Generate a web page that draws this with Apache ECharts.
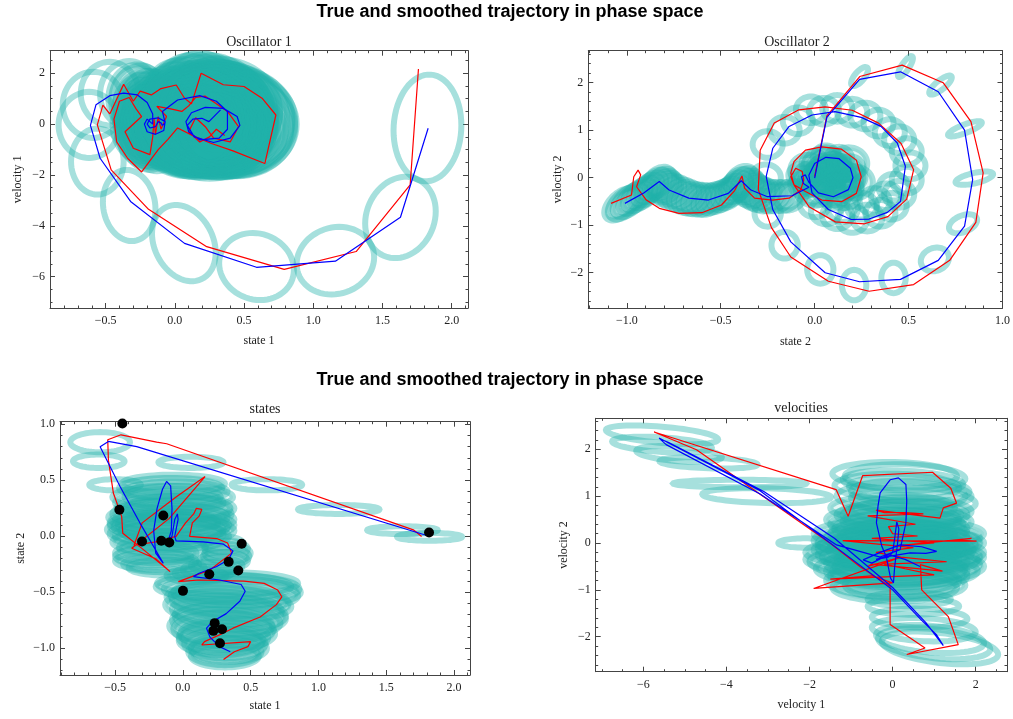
<!DOCTYPE html>
<html><head><meta charset="utf-8">
<script src="https://cdn.jsdelivr.net/npm/echarts@6/dist/echarts.min.js"></script>
<style>html,body{margin:0;padding:0;background:#fff}#c{width:1013px;height:719px}</style>
</head><body><div id="c"></div>
<script>
// ---------------- DATA ----------------
// Plot 1: Oscillator 1 (state 1 vs velocity 1)
const true1 = [[1.76,2.17],[1.70,-2.39],[1.31,-5.01],[0.79,-5.71],[0.23,-4.82],[-0.19,-3.35],[-0.46,-1.80],[-0.56,-0.03],[-0.52,0.75],[-0.47,0.40],[-0.37,1.57],[-0.30,0.90],[-0.25,1.30],[-0.17,1.15],[-0.10,1.40],[0.01,1.54],[0.07,1.02],[0.12,0.80],[0.19,2.00],[0.35,1.55],[0.50,1.48],[0.63,1.02],[0.73,0.36],[0.65,-1.55],[0.42,-1.05],[0.26,-0.75],[0.13,-0.45],[0.02,-0.15],[-0.05,-0.60],[-0.12,-1.00],[-0.24,-1.88],[-0.34,-1.35],[-0.42,-0.70],[-0.44,0.20],[-0.40,0.90],[-0.33,1.05],[-0.28,0.60],[-0.24,0.30],[-0.36,-0.30],[-0.30,-0.95],[-0.18,-1.20],[-0.16,-0.50],[-0.15,0.20],[-0.14,-0.40],[-0.12,0.30],[-0.10,-0.20],[-0.06,0.30],[-0.13,0.70],[-0.03,0.60],[0.05,0.50],[0.10,0.72],[0.15,1.05],[0.22,1.10],[0.30,0.80],[0.38,0.50],[0.46,-0.10],[0.40,-0.70],[0.28,-0.55],[0.22,-0.10],[0.15,0.25],[0.10,-0.30],[0.18,-0.70],[0.25,-0.50],[0.30,-0.20],[0.36,-0.45]];
const smooth1 = [[1.83,-0.16],[1.63,-3.66],[1.16,-5.39],[0.59,-5.63],[0.07,-4.69],[-0.32,-3.04],[-0.54,-1.34],[-0.61,-0.05],[-0.57,0.76],[-0.47,1.12],[-0.37,1.22],[-0.27,1.15],[-0.20,0.85],[-0.16,0.40],[-0.16,0.00],[-0.20,0.20],[-0.22,0.00],[-0.20,-0.30],[-0.14,-0.40],[-0.08,-0.25],[-0.07,0.10],[-0.12,0.25],[-0.18,0.20],[-0.20,0.00],[-0.18,-0.15],[-0.14,-0.10],[-0.12,0.10],[-0.10,0.05],[-0.09,-0.05],[-0.07,0.05],[-0.09,0.50],[0.02,0.95],[0.18,1.12],[0.30,0.90],[0.38,0.50],[0.38,-0.20],[0.32,-0.55],[0.18,-0.62],[0.10,-0.30],[0.08,0.10],[0.12,0.45],[0.22,0.66],[0.35,0.62],[0.45,0.30],[0.47,-0.05],[0.40,-0.55],[0.28,-0.72],[0.14,-0.50],[0.09,-0.05],[0.13,0.20],[0.195,0.23],[0.246,0.10],[0.33,0.56]];
// covariance ellipses: [centre x, centre y, sd x, sd y, correlation]
const ell1Sparse = [[1.825,-0.15,0.245,2.1,0.05],[1.63,-3.67,0.255,1.6,0.15],[1.16,-5.37,0.28,1.33,0.1],[0.59,-5.6,0.27,1.32,-0.1],[0.065,-4.68,0.23,1.5,-0.25],[-0.33,-3.2,0.19,1.4,-0.1],[-0.56,-1.47,0.19,1.3,0],[-0.62,-0.03,0.22,1.3,0],[-0.59,0.76,0.22,1.3,0],[-0.47,1.2,0.21,1.25,0],[-0.33,1.18,0.21,1.3,0]];
const ell1Dense = [[-0.27,1.0,0.21,1.35,0],[-0.22,0.7,0.21,1.4,0],[-0.19,0.4,0.21,1.45,0],[-0.2,0.1,0.21,1.5,0],[-0.21,-0.15,0.21,1.5,0],[-0.18,-0.3,0.21,1.5,0],[-0.13,-0.35,0.22,1.5,0],[-0.09,-0.2,0.22,1.5,0],[-0.08,0.1,0.22,1.55,0],[-0.12,0.2,0.22,1.55,0],[-0.16,0.05,0.22,1.55,0],[-0.1,0.0,0.22,1.6,0],[-0.07,0.3,0.23,1.6,0],[-0.05,0.6,0.24,1.6,0],[0.02,0.9,0.25,1.6,0],[0.1,1.05,0.26,1.65,0],[0.18,1.1,0.28,1.7,0],[0.27,0.95,0.3,1.75,0],[0.35,0.6,0.33,1.8,0],[0.38,0.2,0.35,1.85,0],[0.36,-0.2,0.36,1.8,0],[0.3,-0.45,0.37,1.65,0],[0.18,-0.5,0.37,1.6,0],[0.1,-0.3,0.38,1.75,0],[0.08,0.05,0.38,2.0,0],[0.12,0.3,0.39,2.0,0],[0.2,0.45,0.4,2.0,0],[0.3,0.45,0.4,2.0,0],[0.4,0.3,0.41,2.0,0],[0.45,0.1,0.42,2.0,0],[0.45,-0.1,0.42,1.95,0],[0.38,-0.3,0.42,1.75,0],[0.28,-0.35,0.42,1.7,0],[0.18,-0.25,0.42,1.75,0],[0.14,0.0,0.42,2.0,0],[0.17,0.2,0.42,2.05,0],[0.22,0.25,0.43,2.1,0],[0.27,0.2,0.43,2.1,0],[0.3,0.35,0.43,2.1,0],
[-0.25,0.9,0.21,1.4,0],[-0.23,0.5,0.21,1.45,0],[-0.22,0.25,0.21,1.5,0],[-0.19,-0.05,0.21,1.5,0],[-0.17,-0.2,0.21,1.5,0],[-0.15,0.15,0.22,1.5,0],[-0.13,0.3,0.22,1.55,0],[-0.11,-0.1,0.22,1.55,0],[-0.06,-0.05,0.22,1.55,0],[-0.04,0.2,0.23,1.55,0],[-0.02,0.45,0.23,1.6,0],[0.0,0.75,0.24,1.6,0],[0.05,0.95,0.25,1.6,0],[-0.14,0.55,0.22,1.5,0],[-0.24,0.0,0.21,1.45,0],[-0.18,0.7,0.21,1.4,0],
[0.14,1.1,0.27,1.65,0],[0.22,1.05,0.29,1.7,0],[0.31,0.8,0.32,1.8,0],[0.37,0.4,0.34,1.85,0],[0.38,0.0,0.35,1.85,0],[0.34,-0.35,0.36,1.75,0],[0.25,-0.5,0.37,1.65,0],[0.14,-0.42,0.37,1.65,0],[0.09,-0.15,0.38,1.85,0],[0.1,0.2,0.38,2.0,0],[0.15,0.4,0.39,2.0,0],[0.25,0.5,0.4,2.0,0],[0.35,0.4,0.41,2.0,0],[0.43,0.2,0.42,2.0,0],[0.46,0.0,0.42,2.0,0],[0.42,-0.2,0.42,1.85,0],[0.33,-0.33,0.42,1.75,0],[0.23,-0.32,0.42,1.72,0],[0.15,-0.12,0.42,1.85,0],[0.15,0.1,0.42,2.0,0],[0.2,0.22,0.42,2.05,0],[0.25,0.15,0.43,2.1,0],[0.29,0.25,0.43,2.1,0],[0.33,0.5,0.43,2.05,0]];

// Plot 2: Oscillator 2 (state 2 vs velocity 2)
const true2 = [[0.00,0.03],[0.065,1.30],[0.24,2.13],[0.466,2.37],[0.684,2.00],[0.832,1.18],[0.897,0.10],[0.858,-0.94],[0.719,-1.74],[0.527,-2.25],[0.29,-2.39],[0.073,-2.18],[-0.127,-1.67],[-0.23,-1.05],[-0.30,-0.25],[-0.29,0.58],[-0.215,1.15],[-0.084,1.43],[0.056,1.49],[0.20,1.42],[0.34,1.15],[0.46,0.72],[0.527,0.17],[0.49,-0.45],[0.39,-0.82],[0.265,-0.97],[0.11,-0.93],[-0.03,-0.61],[-0.11,-0.15],[-0.127,0.10],[-0.11,0.34],[-0.049,0.58],[0.038,0.65],[0.143,0.60],[0.222,0.37],[0.248,0.02],[0.222,-0.33],[0.143,-0.505],[0.038,-0.47],[-0.049,-0.29],[-0.11,-0.15],[-0.127,0.02],[-0.101,0.20],[-0.066,0.13],[-0.058,-0.05],[-0.075,-0.26],[-0.136,-0.43],[-0.224,-0.47],[-0.32,-0.43],[-0.373,-0.22],[-0.387,0.036],[-0.394,0.036],[-0.426,-0.27],[-0.496,-0.575],[-0.60,-0.737],[-0.722,-0.75],[-0.827,-0.645],[-0.896,-0.47],[-0.948,-0.19],[-0.926,0.06],[-0.94,0.16],[-0.963,0.02],[-0.975,-0.364],[-1.084,-0.54]];
const smooth2 = [[0.0,-0.01],[0.065,1.27],[0.239,2.07],[0.457,2.23],[0.658,1.81],[0.798,1.0],[0.841,-0.04],[0.798,-1.02],[0.658,-1.74],[0.457,-2.14],[0.239,-2.19],[0.056,-2.0],[-0.127,-1.35],[-0.223,-0.67],[-0.258,0.03],[-0.223,0.62],[-0.136,1.08],[-0.014,1.32],[0.108,1.39],[0.248,1.27],[0.353,1.08],[0.44,0.73],[0.483,0.24],[0.457,-0.5],[0.387,-0.73],[0.29,-0.87],[0.195,-0.88],[0.073,-0.67],[-0.014,-0.32],[-0.031,0.05],[0.0,0.3],[0.06,0.43],[0.13,0.4],[0.19,0.2],[0.204,0.0],[0.18,-0.25],[0.1,-0.4],[0.02,-0.32],[-0.03,-0.1],[-0.05,0.06],[-0.07,0.02],[-0.06,-0.12],[-0.03,-0.2],[-0.06,-0.26],[-0.12,-0.38],[-0.251,-0.4],[-0.339,-0.26],[-0.391,-0.063],[-0.46,-0.33],[-0.565,-0.47],[-0.67,-0.43],[-0.775,-0.26],[-0.827,-0.08],[-0.91,-0.32],[-1.01,-0.54]];
const ell2Sparse = [[0.239,2.13,0.045,0.2,0.7],[0.483,2.34,0.04,0.22,0.8],[0.67,1.95,0.06,0.2,0.8],[0.80,1.03,0.09,0.16,0.8],[0.85,-0.01,0.1,0.14,0.6],[0.79,-0.97,0.075,0.2,0.4],[0.64,-1.72,0.075,0.25,0.15],[0.42,-2.11,0.065,0.32,0],[0.21,-2.26,0.065,0.32,0],[0.03,-1.93,0.07,0.3,0],[-0.16,-1.42,0.07,0.28,0],[-0.25,-0.75,0.07,0.28,0],
[-0.26,0.0,0.08,0.28,0],[-0.25,0.7,0.08,0.28,0],[-0.16,1.0,0.08,0.28,0],[-0.09,1.2,0.08,0.28,0],[-0.02,1.43,0.08,0.28,0],[0.05,1.4,0.08,0.28,0],[0.12,1.46,0.08,0.28,0],[0.2,1.38,0.08,0.28,0],[0.27,1.3,0.08,0.28,0],[0.34,1.15,0.08,0.28,0],[0.4,0.95,0.08,0.28,0],[0.45,0.8,0.08,0.28,0],[0.49,0.55,0.08,0.28,0],[0.51,0.25,0.08,0.28,0],[0.49,-0.05,0.08,0.28,0],[0.45,-0.35,0.08,0.28,0],[0.41,-0.6,0.08,0.28,0],[0.35,-0.75,0.08,0.28,0],[0.28,-0.85,0.08,0.28,0],[0.2,-0.88,0.08,0.28,0],[0.12,-0.8,0.08,0.28,0],[0.06,-0.7,0.08,0.28,0],[0.0,-0.55,0.08,0.28,0],
[0.25,-0.6,0.08,0.28,0],[0.32,-0.5,0.08,0.28,0],[0.38,-0.4,0.08,0.28,0],[0.15,-0.65,0.08,0.28,0],[0.42,-0.2,0.08,0.28,0]];
const ell2Dense = [[-0.03,0.05,0.07,0.25,0],[0.0,0.3,0.07,0.25,0],[0.06,0.43,0.07,0.25,0],[0.13,0.4,0.07,0.25,0],[0.19,0.2,0.07,0.25,0],[0.2,0.0,0.07,0.25,0],[0.18,-0.25,0.07,0.25,0],[0.1,-0.4,0.07,0.25,0],[0.02,-0.32,0.07,0.25,0],[0.04,0.1,0.07,0.25,0],[0.09,0.0,0.07,0.25,0],[0.12,0.15,0.07,0.25,0],[0.08,-0.15,0.07,0.25,0],[0.14,-0.1,0.07,0.25,0],[0.05,0.2,0.07,0.25,0],[0.1,0.25,0.07,0.25,0],[0.16,0.05,0.07,0.25,0],[0.03,-0.1,0.07,0.25,0],[-0.05,-0.05,0.07,0.25,0],[-0.07,0.05,0.07,0.25,0],[-0.06,-0.15,0.07,0.25,0],
[0.09,0.02,0.12,0.4,0],[0.07,0.1,0.12,0.4,0.2],[0.11,-0.05,0.12,0.4,-0.2],[0.05,0.05,0.12,0.4,0.4],[0.13,0.0,0.12,0.4,-0.4],[0.08,0.2,0.11,0.38,0],[0.1,-0.2,0.11,0.38,0],[0.02,0.0,0.1,0.36,0.3],[0.16,0.1,0.1,0.36,-0.3],[0.04,0.3,0.1,0.34,0.2],[0.14,-0.3,0.1,0.34,-0.2],[0.18,0.3,0.1,0.34,0],[0.0,-0.25,0.1,0.34,0],[0.22,-0.1,0.09,0.33,0],[-0.04,0.15,0.09,0.33,0],
[-0.12,-0.38,0.08,0.31,0.3],[-0.19,-0.4,0.08,0.31,0.3],[-0.251,-0.4,0.08,0.31,0.3],[-0.3,-0.34,0.08,0.31,0.3],[-0.339,-0.26,0.08,0.31,0.3],[-0.36,-0.16,0.08,0.31,0.3],[-0.391,-0.063,0.08,0.31,0.3],[-0.42,-0.2,0.08,0.31,0.3],[-0.46,-0.33,0.08,0.31,0.3],[-0.51,-0.41,0.08,0.31,0.3],[-0.565,-0.47,0.08,0.31,0.3],[-0.62,-0.46,0.08,0.31,0.3],[-0.67,-0.43,0.08,0.31,0.3],[-0.72,-0.35,0.08,0.31,0.3],[-0.775,-0.26,0.08,0.31,0.3],[-0.8,-0.17,0.08,0.31,0.3],[-0.827,-0.08,0.08,0.31,0.3],[-0.87,-0.2,0.08,0.31,0.4],[-0.91,-0.32,0.08,0.32,0.4],[-0.96,-0.43,0.085,0.33,0.5],[-1.01,-0.54,0.09,0.34,0.5],
[-0.15,-0.39,0.08,0.31,0.3],[-0.22,-0.4,0.08,0.31,0.3],[-0.28,-0.37,0.08,0.31,0.3],[-0.32,-0.3,0.08,0.31,0.3],[-0.35,-0.21,0.08,0.31,0.3],[-0.375,-0.11,0.08,0.31,0.3],[-0.405,-0.13,0.08,0.31,0.3],[-0.44,-0.27,0.08,0.31,0.3],[-0.485,-0.37,0.08,0.31,0.3],[-0.54,-0.44,0.08,0.31,0.3],[-0.59,-0.47,0.08,0.31,0.3],[-0.645,-0.45,0.08,0.31,0.3],[-0.695,-0.39,0.08,0.31,0.3],[-0.75,-0.3,0.08,0.31,0.3],[-0.79,-0.21,0.08,0.31,0.3],[-0.815,-0.12,0.08,0.31,0.3],[-0.85,-0.14,0.08,0.31,0.4],[-0.89,-0.26,0.08,0.32,0.4],[-0.935,-0.37,0.085,0.33,0.45],[-0.985,-0.49,0.09,0.34,0.5],[-1.03,-0.56,0.09,0.34,0.5]];

// Plot 3: states (state 1 vs state 2)
const true3 = [[1.761,-0.002],[1.70,0.058],[-0.119,0.826],[-0.193,0.84],[-0.456,0.906],[-0.554,0.862],[-0.549,0.68],[-0.512,0.384],[-0.451,0.176],[-0.443,0.027],[-0.30,-0.11],[-0.094,-0.315],[-0.2,-0.2],[-0.377,-0.107],[-0.1,0.16],[0.164,0.533],[-0.05,0.35],[-0.3,0.12],[-0.36,-0.08],[-0.2,-0.05],[-0.05,0.0],[0.02,0.12],[0.08,0.2],[0.1,0.25],[0.14,0.24],[0.12,0.18],[0.07,0.12],[0.05,0.0],[0.25,-0.02],[0.33,-0.06],[0.36,-0.15],[0.2,-0.3],[-0.033,-0.405],[0.12,-0.39],[0.45,-0.40],[0.6,-0.42],[0.7,-0.48],[0.73,-0.54],[0.69,-0.61],[0.57,-0.72],[0.37,-0.82],[0.27,-0.88],[0.16,-0.94],[0.14,-0.97],[0.5,-0.94],[0.48,-0.985],[0.38,-1.03],[0.3,-1.1]];
const smooth3 = [[1.80,0.007],[-0.34,0.80],[-0.549,0.847],[-0.61,0.80],[-0.463,0.445],[-0.316,0.118],[-0.144,-0.241],[-0.2,-0.15],[-0.215,0.05],[-0.19,0.25],[-0.15,0.42],[-0.12,0.49],[-0.09,0.45],[-0.08,0.25],[-0.085,0.05],[-0.11,-0.05],[-0.08,0.0],[-0.06,0.15],[-0.04,0.2],[-0.035,0.15],[-0.06,0.0],[-0.05,-0.04],[0.15,-0.05],[0.3,-0.07],[0.37,-0.13],[0.336,-0.21],[0.25,-0.27],[0.12,-0.33],[0.078,-0.36],[0.27,-0.39],[0.43,-0.43],[0.46,-0.49],[0.42,-0.58],[0.32,-0.69],[0.22,-0.76],[0.175,-0.82],[0.2,-0.9],[0.27,-0.985],[0.35,-1.03]];
const obs3 = [[-0.446,1.007],[-0.468,0.237],[-0.144,0.186],[-0.301,-0.046],[-0.159,-0.040],[-0.10,-0.055],[0.434,-0.067],[0.338,-0.228],[0.409,-0.305],[0.195,-0.338],[0.001,-0.487],[0.235,-0.775],[0.225,-0.844],[0.289,-0.829],[0.274,-0.954],[1.816,0.034]];
const ell3Sparse = [[-0.61,0.84,0.22,0.09,0],[-0.62,0.67,0.19,0.06,0],[-0.5,0.46,0.19,0.05,0],[0.06,0.66,0.24,0.05,0],[0.62,0.46,0.26,0.05,0],[1.15,0.24,0.3,0.04,0],[1.62,0.055,0.26,0.035,0],[1.82,-0.005,0.24,0.035,0]];
const ell3Dense = [[-0.07,0.47,0.38,0.08,0],[-0.05,0.4,0.38,0.09,0],[-0.1,0.3,0.4,0.1,0],[-0.08,0.2,0.44,0.12,0],[-0.1,0.1,0.44,0.12,0],[-0.12,0.02,0.42,0.12,0],[-0.06,0.15,0.44,0.12,0],[-0.04,0.05,0.42,0.12,0],[-0.18,-0.05,0.34,0.1,0],[-0.2,-0.15,0.3,0.09,0],[-0.2,-0.22,0.3,0.08,0],[-0.12,-0.28,0.28,0.07,0],[-0.02,0.25,0.4,0.11,0],[-0.14,0.12,0.4,0.11,0],
[-0.09,0.43,0.38,0.09,0],[-0.12,0.35,0.4,0.1,0],[-0.07,0.25,0.42,0.11,0],[-0.11,0.17,0.44,0.12,0],[-0.13,0.06,0.43,0.12,0],[-0.05,0.1,0.43,0.12,0],[-0.08,0.0,0.42,0.12,0],[-0.15,-0.1,0.32,0.1,0],[-0.22,-0.18,0.28,0.08,0],[-0.16,-0.25,0.28,0.07,0],[-0.03,0.35,0.4,0.1,0],[-0.09,0.08,0.42,0.12,0],
[0.3,-0.07,0.15,0.07,0],[0.33,-0.15,0.17,0.08,0],[0.3,-0.22,0.18,0.08,0],[0.2,-0.3,0.2,0.07,0],[0.1,-0.35,0.22,0.06,0],[0.32,-0.11,0.16,0.07,0],[0.32,-0.18,0.17,0.08,0],[0.25,-0.26,0.19,0.07,0],[0.15,-0.33,0.21,0.06,0],
[0.33,-0.42,0.52,0.1,0],[0.36,-0.47,0.5,0.12,0],[0.38,-0.53,0.47,0.13,0],[0.36,-0.6,0.44,0.14,-0.2],[0.34,-0.68,0.42,0.15,-0.2],[0.32,-0.76,0.4,0.15,-0.1],[0.3,-0.83,0.37,0.15,0],[0.3,-0.9,0.33,0.14,0],[0.31,-0.96,0.3,0.13,0],[0.31,-1.03,0.27,0.12,0],[0.31,-1.07,0.25,0.1,0],
[0.3,-0.45,0.5,0.11,0],[0.4,-0.5,0.47,0.12,0],[0.33,-0.57,0.45,0.14,-0.2],[0.3,-0.64,0.43,0.15,-0.2],[0.35,-0.72,0.41,0.15,-0.1],[0.28,-0.8,0.38,0.15,0],[0.33,-0.87,0.35,0.14,0],[0.28,-0.93,0.31,0.13,0],[0.34,-1.0,0.28,0.12,0]];

// Plot 4: velocities (velocity 1 vs velocity 2)
const true4 = [[-5.74,2.37],[-4.72,1.99],[-1.51,0.0],[-0.79,-0.5],[-0.06,-0.93],[-0.06,-1.74],[0.78,-2.24],[0.34,-2.38],[1.58,-2.17],[1.34,-1.57],[0.70,-1.0],[0.67,-0.46],[1.2,-0.6],[-0.5,-0.45],[-0.6,-0.5],[0.2,-0.3],[-1.9,-0.97],[0.0,-0.85],[-0.5,-0.7],[-1.5,-0.77],[1.0,-0.68],[0.3,-0.55],[-0.2,-0.45],[1.3,-0.4],[0.2,-0.3],[-0.4,-0.2],[0.5,-0.1],[-1.2,0.05],[2.02,0.04],[1.5,0.06],[1.9,0.1],[0.2,-0.05],[1.0,0.0],[-0.5,0.1],[0.6,0.15],[0.0,0.2],[-0.1,0.35],[0.55,0.4],[-0.6,0.58],[0.74,0.62],[0.3,0.65],[-0.2,0.65],[-0.4,0.7],[1.14,0.53],[1.22,0.75],[1.54,0.85],[1.40,1.17],[0.96,1.51],[-0.72,1.44],[-1.07,0.57],[-1.36,1.14],[-5.74,2.37]];
const smooth4 = [[0.66,-0.5],[0.3,-0.35],[-0.1,-0.25],[-0.5,-0.43],[-0.71,-0.36],[-0.3,-0.2],[0.18,-0.04],[0.7,-0.08],[1.06,-0.18],[0.8,-0.22],[0.42,-0.21],[-0.2,-0.3],[-0.4,-0.35],[-0.1,-0.3],[0.0,-0.2],[0.05,0.1],[0.1,0.45],[0.15,0.3],[0.12,0.0],[0.05,-0.5],[0.02,-0.85],[-0.05,-0.75],[-0.15,-0.3],[-0.26,-0.07],[-0.39,0.43],[-0.35,0.8],[-0.3,1.07],[-0.06,1.35],[0.14,1.39],[0.32,1.25],[0.34,0.9],[0.32,0.43],[0.18,-0.14],[0.0,-0.2],[-0.3,-0.3],[-1.35,-0.04],[-3.2,1.05],[-5.45,2.1],[-5.62,2.24],[-3.2,1.12],[-1.2,-0.2],[0.0,-1.0],[0.7,-1.65],[1.05,-1.95],[1.22,-2.19],[1.1,-2.05],[0.8,-1.7],[0.0,-0.95],[-1.4,0.1],[-3.1,1.1],[-5.4,2.15],[-5.6,2.22]];
const ell4Sparse = [[-5.55,2.31,1.35,0.2,-0.5],[-5.55,2.1,1.2,0.17,-0.4],[-5.14,1.9,1.03,0.17,-0.4],[-4.43,1.71,1.18,0.12,-0.3],[-3.68,1.27,1.6,0.08,0],[-3.03,1.01,1.55,0.16,-0.2],[-2.1,0.0,0.65,0.1,0],
[0.05,1.45,1.5,0.28,-0.1],[0.25,1.3,1.45,0.25,-0.2],[0.4,1.15,1.45,0.27,-0.2],[0.2,1.0,1.55,0.3,0],[0.5,0.9,1.5,0.3,-0.2],[0.3,1.4,1.45,0.28,-0.1],[0.1,1.2,1.5,0.28,-0.1],[0.45,1.05,1.45,0.28,-0.2],
[0.5,-1.35,1.1,0.18,0],[0.75,-1.85,1.25,0.25,-0.2],[0.9,-2.05,1.3,0.3,-0.3],[1.14,-2.24,1.4,0.35,-0.4],[0.4,-1.2,1.0,0.15,0],[0.65,-1.6,1.15,0.2,-0.1],[1.0,-2.15,1.35,0.33,-0.35]];
const ell4Dense = [[0.2,0.3,1.6,0.35,0],[0.1,0.1,1.7,0.35,0],[0.0,-0.1,1.8,0.35,0],[0.2,-0.3,1.9,0.35,0],[-0.1,-0.4,1.9,0.35,0],[0.3,0.0,1.8,0.35,0],[0.1,-0.6,1.7,0.35,0],[0.0,-0.8,1.6,0.35,0],[0.4,-0.5,1.8,0.35,0],[0.5,0.2,1.7,0.3,0],[-0.2,0.2,1.7,0.3,0],[0.0,0.5,1.6,0.3,0],[0.3,0.6,1.5,0.3,0],[-0.3,-0.2,1.8,0.3,0],[0.6,-0.2,1.6,0.3,0],[0.2,-0.15,1.75,0.33,0],[-0.05,0.0,1.75,0.3,0],[0.35,-0.35,1.7,0.33,0],
[0.15,0.2,1.65,0.33,0],[0.25,-0.05,1.75,0.33,0],[0.05,-0.25,1.85,0.35,0],[-0.05,-0.55,1.8,0.35,0],[0.25,-0.45,1.85,0.35,0],[0.15,-0.7,1.65,0.35,0],[0.4,0.1,1.7,0.32,0],[-0.15,0.05,1.75,0.32,0],[0.45,-0.3,1.75,0.33,0],[0.1,0.4,1.6,0.3,0],[0.35,0.45,1.55,0.3,0],[-0.25,-0.35,1.85,0.32,0],[0.55,0.0,1.65,0.3,0],[0.3,-0.6,1.75,0.33,0],[-0.1,-0.15,1.8,0.33,0],[0.05,-0.95,1.5,0.3,0],[0.3,-0.9,1.45,0.3,0],[0.15,0.6,1.5,0.28,0],[0.45,0.7,1.45,0.28,-0.1],[0.0,0.75,1.5,0.28,0]];

// Tick values and labels
const ticks1x = [-0.5,0,0.5,1,1.5,2],   labels1x = ['\u22120.5','0.0','0.5','1.0','1.5','2.0'];
const ticks1y = [-6,-4,-2,0,2],         labels1y = ['\u22126','\u22124','\u22122','0','2'];
const ticks2x = [-1,-0.5,0,0.5,1],      labels2x = ['\u22121.0','\u22120.5','0.0','0.5','1.0'];
const ticks2y = [-2,-1,0,1,2],          labels2y = ['\u22122','\u22121','0','1','2'];
const ticks3x = [-0.5,0,0.5,1,1.5,2],   labels3x = ['\u22120.5','0.0','0.5','1.0','1.5','2.0'];
const ticks3y = [-1,-0.5,0,0.5,1],      labels3y = ['\u22121.0','\u22120.5','0.0','0.5','1.0'];
const ticks4x = [-6,-4,-2,0,2],         labels4x = ['\u22126','\u22124','\u22122','0','2'];
const ticks4y = [-2,-1,0,1,2],          labels4y = ['\u22122','\u22121','0','1','2'];

// ---------------- CHART ----------------
const SERIF = "'Liberation Serif','Times New Roman',serif";
const SANS = "'Liberation Sans',Arial,sans-serif";
const FRAME = '#444';
const TEAL = 'rgba(32,178,170,0.4)';
const TEAL_FILL = 'rgba(32,178,170,0.13)';

function stepValues(min, max, step) {
  const out = [];
  const start = Math.ceil(min / step - 1e-9);
  for (let k = start; k * step <= max + 1e-9; k++) out.push(+(k * step).toFixed(6));
  return out;
}
function axisSet(dim, g, min, max, majors, labels, minorStep, name, gap) {
  const minors = stepValues(min, max, minorStep).filter(v => !majors.some(m => Math.abs(m - v) < 1e-9));
  const pos = dim === 'x' ? ['bottom', 'top'] : ['left', 'right'];
  const base = { gridIndex: g, type: 'value', min: min, max: max, splitLine: { show: false } };
  const fmt = v => { const i = majors.findIndex(m => Math.abs(m - v) < 1e-9); return i >= 0 ? labels[i] : ''; };
  return [
    Object.assign({}, base, {
      position: pos[0], name: name, nameLocation: 'middle', nameGap: gap,
      nameTextStyle: { fontFamily: SERIF, fontSize: 12, color: '#222' },
      axisLine: { show: true, onZero: false, lineStyle: { color: FRAME, width: 1 } },
      axisTick: { show: true, inside: true, length: 5, customValues: majors, lineStyle: { color: FRAME } },
      axisLabel: { show: true, customValues: majors, formatter: fmt, fontFamily: SERIF, fontSize: 12, color: '#222', margin: dim === 'x' ? 7 : 5 }
    }),
    Object.assign({}, base, {
      position: pos[1],
      axisLine: { show: true, onZero: false, lineStyle: { color: FRAME, width: 1 } },
      axisTick: { show: true, inside: true, length: 5, customValues: majors, lineStyle: { color: FRAME } },
      axisLabel: { show: false }
    }),
    Object.assign({}, base, {
      position: pos[0],
      axisLine: { show: false, onZero: false },
      axisTick: { show: true, inside: true, length: 2.5, customValues: minors, lineStyle: { color: FRAME } },
      axisLabel: { show: false }
    }),
    Object.assign({}, base, {
      position: pos[1],
      axisLine: { show: false, onZero: false },
      axisTick: { show: true, inside: true, length: 2.5, customValues: minors, lineStyle: { color: FRAME } },
      axisLabel: { show: false }
    })
  ];
}

function makeEllipseRenderer(fill) {
  return function (params, api) {
    const cx = api.value(0), cy = api.value(1), sx = api.value(2), sy = api.value(3), rho = api.value(4);
    const r2 = Math.sqrt(Math.max(0, 1 - rho * rho));
    const pts = [];
    const N = 64;
    for (let i = 0; i < N; i++) {
      const t = i / N * 2 * Math.PI;
      pts.push(api.coord([cx + sx * Math.cos(t), cy + sy * (rho * Math.cos(t) + r2 * Math.sin(t))]));
    }
    return { type: 'polygon', shape: { points: pts }, style: { fill: fill, stroke: TEAL, lineWidth: 6 } };
  };
}
function ellSeries(g, data, dense) {
  return { type: 'custom', xAxisIndex: 4 * g, yAxisIndex: 4 * g, data: data,
           renderItem: makeEllipseRenderer(dense ? TEAL_FILL : 'none'),
           clip: true, silent: true, z: 1, animation: false };
}
function lineSeries(g, data, color, z) {
  return { type: 'line', xAxisIndex: 4 * g, yAxisIndex: 4 * g, data: data, showSymbol: false, symbol: 'none',
           lineStyle: { color: color, width: 1.2 }, z: z, silent: true, animation: false };
}

const xAxes = [].concat(
  axisSet('x', 0, -0.902, 2.118, ticks1x, labels1x, 0.1, 'state 1', 27),
  axisSet('x', 1, -1.205, 1.0, ticks2x, labels2x, 0.1, 'state 2', 28),
  axisSet('x', 2, -0.906, 2.118, ticks3x, labels3x, 0.1, 'state 1', 25),
  axisSet('x', 3, -7.146, 2.753, ticks4x, labels4x, 0.5, 'velocity 1', 27)
);
const yAxes = [].concat(
  axisSet('y', 0, -7.231, 2.889, ticks1y, labels1y, 0.5, 'velocity 1', 26),
  axisSet('y', 1, -2.743, 2.674, ticks2y, labels2y, 0.2, 'velocity 2', 24),
  axisSet('y', 2, -1.238, 1.023, ticks3y, labels3y, 0.1, 'state 2', 33),
  axisSet('y', 3, -2.747, 2.662, ticks4y, labels4y, 0.2, 'velocity 2', 26)
);

const chart = echarts.init(document.getElementById('c'), null, { renderer: 'canvas' });
chart.setOption({
  backgroundColor: '#fff',
  animation: false,
  title: [
    { text: 'True and smoothed trajectory in phase space', left: 510, top: 3, textAlign: 'center', padding: 0,
      textStyle: { fontFamily: SANS, fontWeight: 'bold', fontSize: 18, color: '#000' } },
    { text: 'True and smoothed trajectory in phase space', left: 510, top: 371, textAlign: 'center', padding: 0,
      textStyle: { fontFamily: SANS, fontWeight: 'bold', fontSize: 18, color: '#000' } },
    { text: 'Oscillator 1', left: 259, top: 35, textAlign: 'center', padding: 0,
      textStyle: { fontFamily: SERIF, fontWeight: 'normal', fontSize: 14, color: '#222' } },
    { text: 'Oscillator 2', left: 797, top: 35, textAlign: 'center', padding: 0,
      textStyle: { fontFamily: SERIF, fontWeight: 'normal', fontSize: 14, color: '#222' } },
    { text: 'states', left: 265, top: 402, textAlign: 'center', padding: 0,
      textStyle: { fontFamily: SERIF, fontWeight: 'normal', fontSize: 14, color: '#222' } },
    { text: 'velocities', left: 801, top: 401, textAlign: 'center', padding: 0,
      textStyle: { fontFamily: SERIF, fontWeight: 'normal', fontSize: 14, color: '#222' } }
  ],
  grid: [
    { left: 50, top: 50.7, width: 418, height: 257.3 },
    { left: 588.3, top: 50.7, width: 416.7, height: 257.3 },
    { left: 60, top: 421.7, width: 410, height: 253.3 },
    { left: 595.7, top: 418.3, width: 411.3, height: 253.4 }
  ],
  xAxis: xAxes,
  yAxis: yAxes,
  series: [
    ellSeries(0, ell1Sparse, false), ellSeries(0, ell1Dense, true),
    lineSeries(0, true1, '#ff0000', 3), lineSeries(0, smooth1, '#0000ff', 4),
    ellSeries(1, ell2Sparse, false), ellSeries(1, ell2Dense, true),
    lineSeries(1, true2, '#ff0000', 3), lineSeries(1, smooth2, '#0000ff', 4),
    ellSeries(2, ell3Sparse, false), ellSeries(2, ell3Dense, true),
    lineSeries(2, true3, '#ff0000', 3), lineSeries(2, smooth3, '#0000ff', 4),
    { type: 'scatter', xAxisIndex: 8, yAxisIndex: 8, data: obs3, symbolSize: 10,
      itemStyle: { color: '#000', opacity: 1 }, z: 5, silent: true, animation: false },
    ellSeries(3, ell4Sparse, false), ellSeries(3, ell4Dense, true),
    lineSeries(3, true4, '#ff0000', 3), lineSeries(3, smooth4, '#0000ff', 4)
  ]
});
</script></body></html>
